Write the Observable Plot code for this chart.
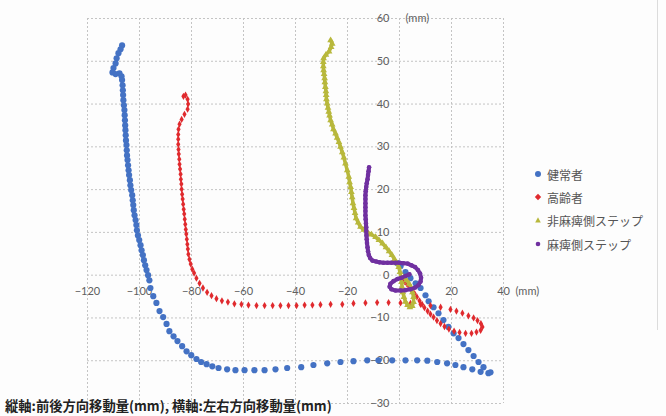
<!DOCTYPE html>
<html><head><meta charset="utf-8">
<script src="https://cdn.jsdelivr.net/npm/d3@7"></script>
<script src="https://cdn.jsdelivr.net/npm/@observablehq/plot@0.6"></script>
<style>
body{margin:0;background:#fdfdfd;}
#wrap{position:relative;width:666px;height:416px;overflow:hidden;background:#fdfdfd;}
#frame{position:absolute;left:657px;top:0;width:1px;height:330px;background:#dcdcdc;}
.leg{position:absolute;left:533px;font:12px "Noto Sans CJK JP",sans-serif;color:#555;display:flex;align-items:center;height:16px;white-space:nowrap;}
.leg svg{margin-right:4px;}
#cap{position:absolute;left:5px;top:396px;font:bold 13.3px "Noto Sans CJK JP",sans-serif;color:#222;white-space:nowrap;}
</style></head><body>
<div id="wrap"><div id="chart"></div><div id="frame"></div><div id="legend"></div><div id="cap"></div></div>
<script>
const seriesNames = ["健常者","高齢者","非麻痺側ステップ","麻痺側ステップ"];
const seriesColors = ["#4472c4","#e02a2e","#b8b83c","#7030a0"];
const xTicks = [-120,-100,-80,-60,-40,-20,0,20,40];
const xTickLabels = [-120,-100,-80,-60,-40,-20,20,40];
const yTicks = [-30,-20,-10,0,10,20,30,40,50,60];
const caption = "縦軸:前後方向移動量(mm), 横軸:左右方向移動量(mm)";

const healthy = [
[-106.7,53.7],[-107.3,52.8],[-108.1,51.9],[-108.8,50.7],[-109.2,49.5],[-110.0,48.4],[-110.4,47.4],[-109.2,47.0],[-107.7,47.2],[-106.9,46.5],[-106.7,45.6],
[-106.5,44.4],[-106.4,43.2],[-106.3,42.1],[-106.2,40.9],[-106.0,39.7],[-105.8,38.6],[-105.7,37.4],[-105.6,36.2],[-105.5,35.0],[-105.4,33.9],[-105.3,32.7],[-105.2,31.5],[-105.0,30.4],[-104.9,29.2],[-104.8,28.0],[-104.6,26.9],[-104.4,25.7],[-104.2,24.5],[-104.0,23.4],[-103.7,22.2],[-103.5,21.0],[-103.2,19.9],[-102.8,18.7],[-102.6,17.5],[-102.4,16.4],[-102.2,15.2],[-101.9,14.0],[-101.5,12.9],[-101.2,11.7],[-101.0,10.5],[-100.6,9.3],[-100.1,8.2],[-99.6,7.0],[-99.2,5.8],[-98.7,4.7],[-98.3,3.5],[-97.8,2.3],[-97.3,1.2],[-96.7,0],[-96.2,-1.2],
[-95.8,-3.0],[-94.7,-4.9],[-93.5,-6.5],[-92.3,-8.4],[-90.9,-9.8],[-89.6,-11.4],[-88.5,-13.1],[-86.9,-14.3],[-85.4,-15.4],[-83.6,-16.6],[-81.9,-17.8],[-80.1,-18.7],[-78.1,-19.6],[-76.3,-20.3],[-74.2,-20.8],[-72.0,-21.3],[-69.6,-21.7],[-66.3,-22.0],[-63.1,-22.2],[-59.6,-22.2],[-55.8,-22.2],[-51.9,-22.2],[-47.7,-22.0],[-43.2,-21.7],[-37.8,-21.5],[-33.1,-21.0],[-27.8,-20.6],[-22.7,-20.3],[-17.7,-20.1],[-12.4,-19.9],[-8.1,-19.9],[-2.8,-19.9],[2.3,-19.9],[6.8,-19.9],[10.7,-20.0],[14.5,-20.3],[18.3,-20.6],[21.5,-21.0],[24.6,-21.5],[28.0,-22.0],[31.2,-22.6],[34.2,-22.9],[35.0,-22.7],
[32.3,-21.5],[30.4,-20.3],[28.5,-18.9],[26.5,-17.5],[24.6,-16.1],[22.7,-14.7],[20.8,-13.6],[18.8,-12.1],[16.9,-10.5],[15.0,-8.9],[13.1,-7.5],[11.2,-6.1],[10.0,-4.7],[8.1,-3.0],[6.2,-1.9],[4.2,-0.7],[2.3,0.7],[0.4,2.1],[-0.8,2.8]
];

const elderly = [
[-83.1,41.8],[-82.3,42.1],[-81.5,41.1],[-81.3,40.0],[-81.5,38.8],[-82.7,37.6],[-83.8,36.4],[-84.6,35.3],[-85.0,34.1],[-85.1,32.9],[-85.1,31.8],[-85.1,30.6],[-85.0,29.4],[-84.9,28.3],[-84.7,27.1],[-84.6,25.9],[-84.4,24.8],[-84.2,23.6],[-84.1,22.4],[-83.9,21.3],[-83.8,20.1],[-83.6,18.9],[-83.4,17.8],[-83.2,16.6],[-83.0,15.4],[-82.8,14.3],[-82.6,13.1],[-82.4,11.9],[-82.2,10.7],[-82.0,9.6],[-81.8,8.4],[-81.6,7.2],[-81.4,6.1],[-81.2,4.9],[-80.8,3.7],[-80.3,2.6],[-79.7,1.4],[-79.0,0.5],[-78.1,-0.7],[-76.9,-1.9],[-75.6,-3.0],[-74.0,-4.0],[-72.3,-4.8],[-70.4,-5.5],[-68.3,-6.0],[-66.0,-6.3],[-63.5,-6.7],[-60.8,-6.8],[-58.1,-7.0],[-55.0,-7.1],[-51.9,-7.1],[-48.8,-7.1],[-45.8,-7.1],[-42.7,-7.1],[-39.6,-7.1],[-36.5,-7.0],[-33.5,-7.0],[-30.4,-6.9],[-26.5,-6.8],[-22.0,-6.8],[-17.7,-6.6],[-13.1,-6.5],[-8.6,-6.4],[-4.2,-6.4],[0.4,-6.5],[4.2,-6.6],[8.1,-6.8],[11.9,-7.1],[15.8,-7.5],[19.6,-8.0],[21.9,-8.4],[24.2,-8.9],[26.5,-9.5],[28.5,-10.0],[30.0,-10.6],[31.3,-11.3],[31.9,-12.1],[31.2,-12.9],[29.6,-13.3],[27.7,-13.6],[25.4,-13.6],[23.1,-13.4],[21.0,-13.1],[19.0,-12.6],[17.3,-12.0],[15.8,-11.3],[14.4,-10.6],[13.1,-9.8],[11.9,-9.1],[10.8,-8.4],[9.6,-7.6],[8.7,-6.8],[7.7,-6.0],[6.7,-5.1],[5.8,-4.3],[4.8,-3.5],[3.8,-2.8],[2.9,-2.1],[1.9,-1.5],[1.2,-0.9]
];

const nonParetic = [
[-26.5,54.9],[-25.9,54.1],[-26.3,53.3],[-27.1,52.3],[-28.3,51.5],[-29.2,50.7],[-29.3,49.8],[-29.3,48.8],[-29.2,47.9],[-29.0,47.0],[-28.8,46.0],[-28.7,45.1],[-28.5,44.0],[-28.3,43.0],[-28.2,42.1],[-28.1,41.1],[-27.8,40.1],[-27.5,39.1],[-27.2,38.2],[-26.9,37.3],[-26.5,36.2],[-25.9,35.2],[-25.4,34.1],[-24.6,33.1],[-24.0,32.1],[-23.3,31.1],[-22.7,30.0],[-22.0,28.7],[-21.4,27.5],[-20.8,26.1],[-20.1,24.5],[-19.5,23.0],[-19.2,21.7],[-18.8,20.6],[-18.5,19.4],[-18.2,18.2],[-17.9,16.8],[-17.5,15.7],[-17.1,14.5],[-16.7,13.3],[-15.9,12.3],[-15.0,11.3],[-13.7,10.6],[-12.3,10.0],[-10.8,9.5],[-9.2,8.9],[-7.9,8.2],[-6.5,7.4],[-5.2,6.5],[-4.0,5.6],[-2.9,4.7],[-1.9,3.7],[-1.0,2.8],[-0.3,1.9],[0.2,0.7],[0.5,-0.5],[0.8,-1.6],[1.0,-2.8],[1.3,-4.0],[1.7,-5.1],[2.3,-6.2],[3.1,-7.0],[4.0,-7.5],[4.9,-7.2],[5.4,-6.3],[5.4,-5.1],[5.0,-4.0],[4.4,-2.9],[3.7,-2.0],[2.7,-1.2],[1.7,-0.5]
];

const paretic = [
[-11.7,25.2],[-11.9,24.3],[-12.1,23.4],[-12.3,22.4],[-12.6,21.5],[-12.8,20.6],[-13.0,19.6],[-13.1,18.7],[-13.1,17.8],[-13.1,16.8],[-13.1,15.9],[-13.1,15.0],[-13.1,14.0],[-13.0,13.1],[-12.9,12.1],[-12.8,11.2],[-12.8,10.3],[-12.7,9.3],[-12.6,8.4],[-12.5,7.5],[-12.3,6.5],[-12.1,5.6],[-11.8,4.7],[-11.3,4.0],[-10.4,3.4],[-9.0,3.2],[-7.7,3.0],[-6.2,2.9],[-4.6,2.9],[-3.1,2.9],[-1.5,2.9],[0,2.9],[1.5,2.8],[3.1,2.7],[4.6,2.3],[6.0,1.9],[7.1,1.2],[7.9,0.4],[8.3,-0.6],[8.1,-1.5],[7.3,-2.3],[6.0,-2.9],[4.2,-3.3],[2.3,-3.5],[0.4,-3.6],[-1.5,-3.6],[-3.1,-3.3],[-3.8,-2.7],[-3.5,-2.0],[-2.3,-1.4],[-0.8,-0.9],[0.8,-0.6],[2.3,-0.2],[3.8,0.2]
];

const gridStyle = {stroke:"#c4c4c4", strokeOpacity:1, strokeDasharray:"2,2"};
const tickFont = {fill:"#606060", fontSize:11, fontFamily:"Lato, 'Open Sans', sans-serif"};
const px = d => d[0], py = d => d[1];

const chart = Plot.plot({
  width:666, height:416,
  marginLeft:87, marginRight:163, marginTop:18, marginBottom:13,
  x:{domain:[-120,40], axis:null},
  y:{domain:[-30,60], axis:null},
  style:{background:"transparent"},
  marks:[
    Plot.gridX(xTicks, gridStyle),
    Plot.gridY(yTicks, gridStyle),
    Plot.text(xTickLabels, {x:d=>d, y:0, dy:16, text:d=>String(d).replace("-","\u2212"), ...tickFont}),
    Plot.text(yTicks, {x:0, y:d=>d, dx:-10, textAnchor:"end", text:d=>String(d).replace("-","\u2212"), ...tickFont}),
    Plot.text(["(mm)"], {x:40, y:0, dy:16, dx:12, textAnchor:"start", text:d=>d, ...tickFont}),
    Plot.text(["(mm)"], {x:0, y:60, dx:6, textAnchor:"start", text:d=>d, ...tickFont}),
    Plot.dot(healthy, {x:px, y:py, r:3.1, symbol:"circle", fill:seriesColors[0]}),
    Plot.dot(elderly, {x:px, y:py, r:2.2, symbol:"diamond", fill:seriesColors[1]}),
    Plot.line(nonParetic, {x:px, y:py, stroke:seriesColors[2], strokeWidth:3.5}),
    Plot.dot(nonParetic, {x:px, y:py, r:2.5, symbol:"triangle", fill:seriesColors[2]}),
    Plot.line(paretic, {x:px, y:py, stroke:seriesColors[3], strokeWidth:4}),
    Plot.dot(paretic, {x:px, y:py, r:2.3, symbol:"circle", fill:seriesColors[3]})
  ]
});
document.getElementById("chart").appendChild(chart);

const symbols = [
  c=>`<circle cx="5" cy="5" r="3" fill="${c}"/>`,
  c=>`<path d="M5 1.8L8.2 5L5 8.2L1.8 5Z" fill="${c}"/>`,
  c=>`<path d="M5 2.2L7.8 7.4H2.2Z" fill="${c}"/>`,
  c=>`<circle cx="5" cy="5" r="2.3" fill="${c}"/>`
];
const legendTops = [166, 189, 212, 236];
const leg = document.getElementById("legend");
seriesNames.forEach((n,i)=>{
  const d = document.createElement("div");
  d.className="leg"; d.style.top = legendTops[i]+"px";
  d.innerHTML = `<svg width="10" height="10">${symbols[i](seriesColors[i])}</svg><span>${n}</span>`;
  leg.appendChild(d);
});
document.getElementById("cap").textContent = caption;
</script>
</body></html>
